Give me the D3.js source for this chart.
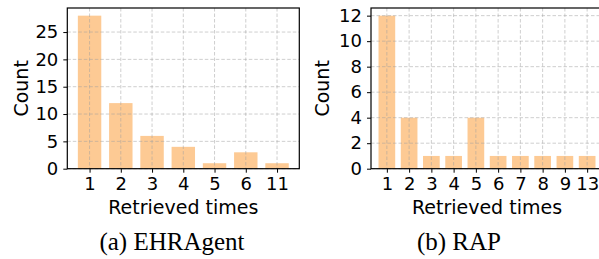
<!DOCTYPE html>
<html>
<head>
<meta charset="utf-8">
<script src="https://cdn.jsdelivr.net/npm/d3@7"></script>
<style>
  body { margin: 0; background: #fff; }
  svg text { font-family: "DejaVu Sans", sans-serif; }
</style>
</head>
<body>
<svg id="chart" width="599" height="259"></svg>
<script>
// data
const ehrLabels = ['1', '2', '3', '4', '5', '6', '11'];
const ehrCounts = [28, 12, 6, 4, 1, 3, 1];
const ehrYTicks = [0, 5, 10, 15, 20, 25];

const rapLabels = ['1', '2', '3', '4', '5', '6', '7', '8', '9', '13'];
const rapCounts = [12, 4, 1, 1, 4, 1, 1, 1, 1, 1];
const rapYTicks = [0, 2, 4, 6, 8, 10, 12];

const captions = ['(a) EHRAgent', '(b) RAP'];

const svg = d3.select('#chart');
const barColor = '#fdca94';
const plotTop = 8, plotBottom = 168.7, plotW = 232;

function drawPanel(x0, labels, counts, yTicks, caption, capX, labelOff) {
    const n = labels.length;
    const x = d3.scaleLinear().domain([-0.7125, n - 1 + 0.7125]).range([x0, x0 + plotW]);
    const y = d3.scaleLinear().domain([0, d3.max(counts) * 1.05]).range([plotBottom, plotTop]);
    const g = svg.append('g');
    const bw = x(0.375) - x(-0.375);

    g.selectAll('rect.bar').data(counts).enter().append('rect')
        .attr('class', 'bar')
        .attr('x', (d, i) => x(i) - bw / 2)
        .attr('y', d => y(d))
        .attr('width', bw)
        .attr('height', d => y(0) - y(d))
        .attr('fill', barColor);

    // grid on top of bars, like matplotlib with alpha
    const grid = g.append('g').attr('stroke', 'rgba(160,160,160,0.5)').attr('stroke-width', 1).attr('stroke-dasharray', '3.5,2');
    labels.forEach((l, i) => {
        grid.append('line').attr('x1', x(i)).attr('x2', x(i)).attr('y1', plotTop).attr('y2', plotBottom);
    });
    yTicks.forEach(t => {
        grid.append('line').attr('x1', x0).attr('x2', x0 + plotW).attr('y1', y(t)).attr('y2', y(t));
    });

    // ticks
    const xAxis = d3.axisBottom(x).tickValues(d3.range(n)).tickFormat(i => labels[i]).tickSize(4).tickPadding(5);
    const ga = g.append('g').attr('transform', 'translate(0,' + plotBottom + ')').call(xAxis);
    ga.select('.domain').remove();
    ga.selectAll('text').attr('font-size', 18).attr('fill', '#000').attr('font-family', '"DejaVu Sans", sans-serif');
    ga.selectAll('line').attr('stroke', '#000');

    const yAxis = d3.axisLeft(y).tickValues(yTicks).tickSize(4).tickPadding(5);
    const gy = g.append('g').attr('transform', 'translate(' + x0 + ',0)').call(yAxis);
    gy.select('.domain').remove();
    gy.selectAll('text').attr('font-size', 18).attr('fill', '#000').attr('font-family', '"DejaVu Sans", sans-serif');
    gy.selectAll('line').attr('stroke', '#000');

    // frame
    g.append('rect').attr('x', x0).attr('y', plotTop).attr('width', plotW).attr('height', plotBottom - plotTop)
        .attr('fill', 'none').attr('stroke', '#000').attr('stroke-width', 1.2);

    g.append('text').text('Retrieved times')
        .attr('x', x0 + plotW / 2).attr('y', 213.5).attr('text-anchor', 'middle').attr('font-size', 19);
    g.append('text').text('Count')
        .attr('transform', 'translate(' + (x0 - labelOff) + ',' + ((plotTop + plotBottom) / 2) + ') rotate(-90)')
        .attr('text-anchor', 'middle').attr('dominant-baseline', 'central').attr('font-size', 19);

    g.append('text').text(caption)
        .attr('x', capX).attr('y', 250).attr('text-anchor', 'middle')
        .style('font-family', '"Liberation Serif", "Times New Roman", serif').attr('font-size', 25);
}

drawPanel(67.3, ehrLabels, ehrCounts, ehrYTicks, captions[0], 172, 46);
drawPanel(371, rapLabels, rapCounts, rapYTicks, captions[1], 459, 49);
</script>
</body>
</html>
